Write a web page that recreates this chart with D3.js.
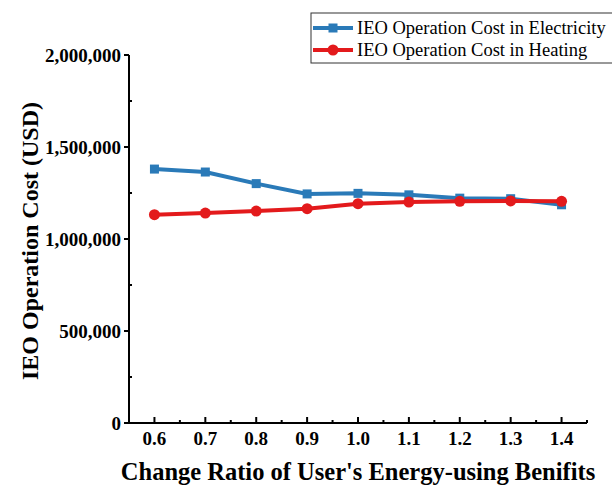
<!DOCTYPE html>
<html>
<head>
<meta charset="utf-8">
<script src="https://cdn.jsdelivr.net/npm/d3@7"></script>
<style>
  html, body { margin: 0; padding: 0; background: #fff; }
  svg { display: block; }
  text { font-family: "Liberation Serif", "Times New Roman", serif; fill: #000; }
</style>
</head>
<body>
<svg id="chart" width="612" height="486"></svg>
<script>
// Change ratio of user's energy-using benefits
const ratios = [0.6, 0.7, 0.8, 0.9, 1.0, 1.1, 1.2, 1.3, 1.4];
// IEO operation cost (USD)
const costElectricity = [1380000, 1364000, 1301000, 1245000, 1248000, 1240000, 1222000, 1219000, 1186000];
const costHeating     = [1132000, 1141000, 1152000, 1165000, 1192000, 1201000, 1205000, 1207000, 1205000];
const yTicks = [0, 500000, 1000000, 1500000, 2000000];
const seriesNames = ["IEO Operation Cost in Electricity", "IEO Operation Cost in Heating"];

const svg = d3.select("#chart");
const x = d3.scaleLinear().domain([0.55, 1.45]).range([129, 587]);
const y = d3.scaleLinear().domain([0, 2000000]).range([423, 55]);

const fmt = d3.format(",");

// Y axis: major ticks outward, minor ticks inward
const yAxisG = svg.append("g").attr("transform", "translate(129,0)");
yAxisG.append("line").attr("x1", 0).attr("x2", 0).attr("y1", y(0) + 1).attr("y2", y(2000000))
  .attr("stroke", "#000").attr("stroke-width", 2);
yAxisG.selectAll(".maj").data(yTicks).join("line")
  .attr("x1", -5).attr("x2", 0).attr("y1", d => y(d)).attr("y2", d => y(d))
  .attr("stroke", "#000").attr("stroke-width", 2);
yAxisG.selectAll(".min").data(d3.range(250000, 2000000, 500000)).join("line")
  .attr("x1", 0).attr("x2", 3).attr("y1", d => y(d)).attr("y2", d => y(d))
  .attr("stroke", "#000").attr("stroke-width", 2);
yAxisG.selectAll(".lab").data(yTicks).join("text")
  .attr("x", -8).attr("y", d => y(d)).attr("dy", "0.35em")
  .attr("text-anchor", "end").attr("font-size", 19).attr("font-weight", "bold")
  .text(d => fmt(d));

// X axis: ticks pointing up into the plot
const xAxisG = svg.append("g");
xAxisG.append("line").attr("x1", 128).attr("x2", 587).attr("y1", y(0)).attr("y2", y(0))
  .attr("stroke", "#000").attr("stroke-width", 2);
xAxisG.selectAll(".maj").data(ratios).join("line")
  .attr("x1", d => x(d)).attr("x2", d => x(d)).attr("y1", y(0)).attr("y2", y(0) - 6)
  .attr("stroke", "#000").attr("stroke-width", 2);
xAxisG.selectAll(".min").data(ratios.map(r => r + 0.05)).join("line")
  .attr("x1", d => x(d)).attr("x2", d => x(d)).attr("y1", y(0)).attr("y2", y(0) - 3)
  .attr("stroke", "#000").attr("stroke-width", 2);
xAxisG.selectAll(".lab").data(ratios).join("text")
  .attr("x", d => x(d)).attr("y", 445)
  .attr("text-anchor", "middle").attr("font-size", 19).attr("font-weight", "bold")
  .text(d => d3.format(".1f")(d));

// Axis titles
svg.append("text").attr("x", 358).attr("y", 480).attr("text-anchor", "middle")
  .attr("font-size", 24.5).attr("font-weight", "bold")
  .text("Change Ratio of User's Energy-using Benifits");
svg.append("text").attr("transform", "translate(38,241) rotate(-90)").attr("text-anchor", "middle")
  .attr("font-size", 24).attr("font-weight", "bold")
  .text("IEO Operation Cost (USD)");

const colors = ["#2a7ab8", "#e31a1c"];
const line = d3.line().x(d => x(d[0])).y(d => y(d[1]));

// Series lines and markers
const elec = ratios.map((r, i) => [r, costElectricity[i]]);
const heat = ratios.map((r, i) => [r, costHeating[i]]);

svg.append("path").datum(elec).attr("d", line).attr("fill", "none")
  .attr("stroke", colors[0]).attr("stroke-width", 4);
svg.selectAll(".sq").data(elec).join("rect")
  .attr("x", d => x(d[0]) - 4.5).attr("y", d => y(d[1]) - 4.5)
  .attr("width", 9).attr("height", 9).attr("fill", colors[0]);

svg.append("path").datum(heat).attr("d", line).attr("fill", "none")
  .attr("stroke", colors[1]).attr("stroke-width", 4);
svg.selectAll(".ci").data(heat).join("circle")
  .attr("cx", d => x(d[0])).attr("cy", d => y(d[1])).attr("r", 5.5).attr("fill", colors[1]);

// Legend
const lg = svg.append("g");
lg.append("rect").attr("x", 311).attr("y", 13).attr("width", 310).attr("height", 50)
  .attr("fill", "#fff").attr("stroke", "#333").attr("stroke-width", 1);
seriesNames.forEach((name, i) => {
  const yy = 28 + i * 22;
  lg.append("line").attr("x1", 313).attr("x2", 353).attr("y1", yy).attr("y2", yy)
    .attr("stroke", colors[i]).attr("stroke-width", 4);
  if (i === 0) {
    lg.append("rect").attr("x", 333 - 4.5).attr("y", yy - 4.5).attr("width", 9).attr("height", 9).attr("fill", colors[i]);
  } else {
    lg.append("circle").attr("cx", 333).attr("cy", yy).attr("r", 5.5).attr("fill", colors[i]);
  }
  lg.append("text").attr("x", 357).attr("y", yy).attr("dy", "0.35em")
    .attr("font-size", 18.5).text(name);
});
</script>
</body>
</html>
